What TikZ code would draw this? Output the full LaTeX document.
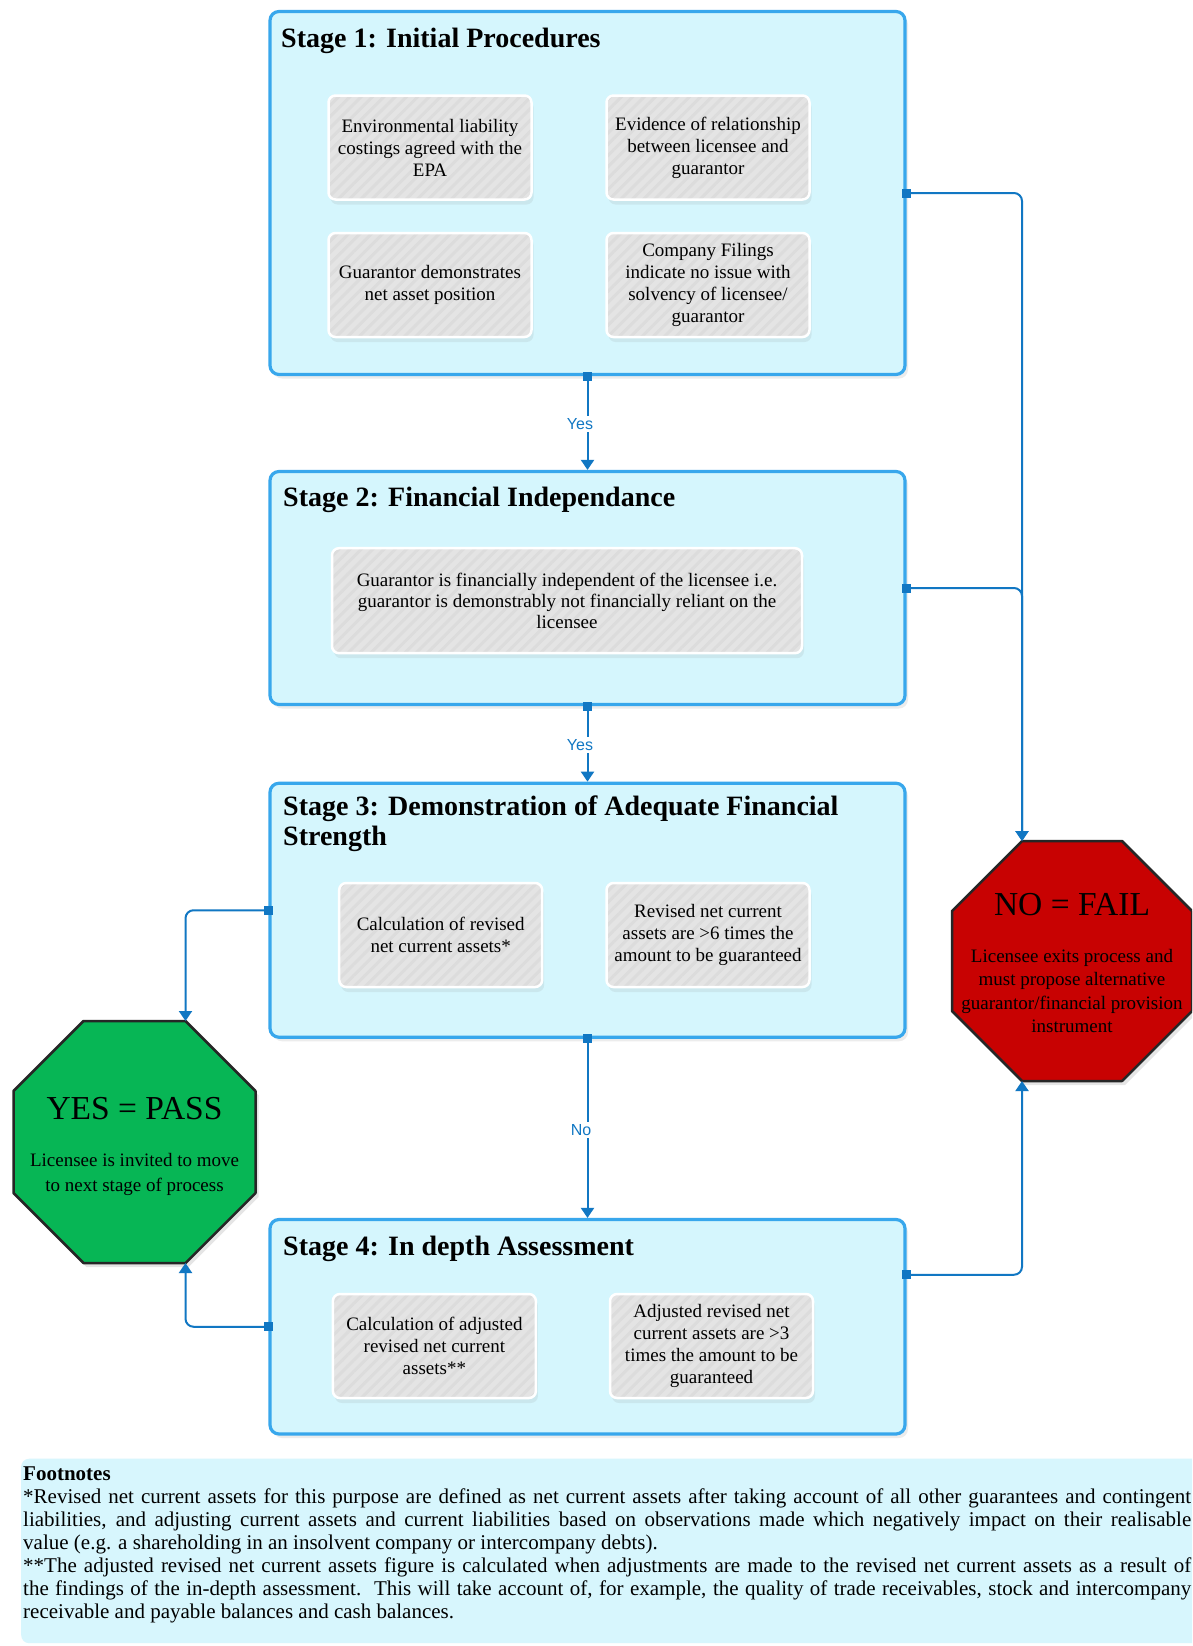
\documentclass[tikz,border=0pt]{standalone}
\usepackage{fontspec}
\setmainfont{Liberation Serif}
\newfontfamily\lsans{Liberation Sans}
\usetikzlibrary{shadows,arrows.meta,patterns.meta,calc}
\definecolor{stagefill}{HTML}{D5F6FD}
\definecolor{stageblue}{HTML}{38A7EC}
\definecolor{connblue}{HTML}{1177C3}
\definecolor{innergray}{HTML}{E4E4E4}
\definecolor{hatchgray}{HTML}{DCDCDC}
\definecolor{footfill}{HTML}{D7F6FD}
\definecolor{failred}{HTML}{C80202}
\definecolor{passgreen}{HTML}{07B655}
\definecolor{octedge}{HTML}{262626}
\begin{document}
\begin{tikzpicture}[x=1pt,y=-1pt,
  stagebox/.style={draw=stageblue, line width=3.2pt, fill=stagefill, rounded corners=9pt,
    minimum width=635pt, inner sep=0pt,
    drop shadow={shadow xshift=3pt, shadow yshift=-4pt, opacity=0.15}},
  innerbox/.style={draw=none, fill=innergray, rounded corners=7pt,
    minimum width=203pt, minimum height=104pt, inner sep=0pt, align=center,
    font=\fontsize{19pt}{22pt}\selectfont,
    drop shadow={shadow xshift=2pt, shadow yshift=-5pt, opacity=0.12},
    postaction={pattern={Lines[angle=45,distance=8pt,line width=3pt]}, pattern color=hatchgray},
    postaction={draw=white, line width=2.5pt}},
  titlef/.style={font=\bfseries\fontsize{28pt}{30pt}\selectfont, inner sep=0pt, anchor=base west, align=flush left},
  sq/.style={fill=connblue, minimum size=9pt, inner sep=0pt, draw=none},
  conn/.style={draw=connblue, line width=2pt, rounded corners=8pt, -{Triangle[width=13pt,length=10pt]}},
  lbl/.style={font=\lsans\fontsize{16pt}{18pt}\selectfont, text=connblue, fill=white, inner sep=2pt},
  octa/.style={draw=octedge, line width=2.5pt, line join=round,
    drop shadow={shadow xshift=3pt, shadow yshift=-4pt, opacity=0.2}},
  octtitle/.style={anchor=base, inner sep=0pt, font=\fontsize{33.5pt}{36pt}\selectfont},
  octbody/.style={anchor=base, inner sep=0pt, text width=236pt, align=flush center}
]
\useasboundingbox (0,0) rectangle (1192,1646);
\clip (0,0) rectangle (1192,1646);
\fill[white] (0,0) rectangle (1192,1646);

% footnote box
\node[fill=footfill, rounded corners=8pt, minimum width=1194pt, minimum height=184.5pt,
  inner sep=0pt, anchor=north west] (fnbox) at (21,1458.5) {};

% stage boxes
\node[stagebox, minimum height=363pt] (s1) at (587.5,193) {};
\node[stagebox, minimum height=233pt] (s2) at (587.5,588) {};
\node[stagebox, minimum height=254pt] (s3) at (587.5,910.25) {};
\node[stagebox, minimum height=214.5pt] (s4) at (587.5,1326.75) {};

% titles
\node[titlef] (s1t) at (281,48) {Stage 1: Initial Procedures};
\node[titlef] (s2t) at (283,506.5) {Stage 2: Financial Independance};
\node[titlef, text width=610pt] (s3t) at (283,815) {Stage 3: Demonstration of Adequate Financial\\Strength};
\node[titlef] (s4t) at (283,1255) {Stage 4: In depth Assessment};

% inner boxes
\node[innerbox] (b1) at (430,147.5) {Environmental liability\\costings agreed with the\\EPA};
\node[innerbox] (b2) at (708,147.5) {Evidence of relationship\\between licensee and\\guarantor};
\node[innerbox] (b3) at (430,285) {Guarantor demonstrates\\net asset position};
\node[innerbox] (b4) at (708,285) {Company Filings\\indicate no issue with\\solvency of licensee/\\guarantor};
\node[innerbox, minimum width=470pt, minimum height=105pt, font=\fontsize{19pt}{21pt}\selectfont] (b5) at (567,600.7)
  {Guarantor is financially independent of the licensee i.e.\\guarantor is demonstrably not financially reliant on the\\licensee};
\node[innerbox] (b6) at (440.7,935) {Calculation of revised\\net current assets*};
\node[innerbox] (b7) at (708,935) {Revised net current\\assets are >6 times the\\amount to be guaranteed};
\node[innerbox] (b8) at (434.4,1346) {Calculation of adjusted\\revised net current\\assets**};
\node[innerbox] (b9) at (711.5,1346) {Adjusted revised net\\current assets are >3\\times the amount to be\\guaranteed};

% octagons
\path[octa, fill=passgreen] (83.5,1021) -- (185.5,1021) -- (255.5,1091) -- (255.5,1193) -- (185.5,1263)
  -- (83.5,1263) -- (13.5,1193) -- (13.5,1091) -- cycle;
\path[octa, fill=failred] (1022,841) -- (1122,841) -- (1192,911) -- (1192,1011) -- (1122,1081)
  -- (1022,1081) -- (952,1011) -- (952,911) -- cycle;
\coordinate (yestop) at (185.5,1021);
\coordinate (yesbot) at (185.5,1263);
\coordinate (notop) at (1022,841);
\coordinate (nobot) at (1022,1081);

\node[octtitle] (yest) at (134.5,1119) {YES = PASS};
\node[octbody, font=\fontsize{19pt}{25pt}\selectfont] (yesb) at (134.5,1166.7) {Licensee is invited to move\\to next stage of process};
\node[octtitle] (not) at (1072,915) {NO = FAIL};
\node[octbody, font=\fontsize{19pt}{23.5pt}\selectfont] (nob) at (1072,962) {Licensee exits process and\\must propose alternative\\guarantor/financial provision\\instrument};

% anchor squares
\node[sq] (q1e) at (s1.east) {};
\node[sq] (q1s) at (s1.south) {};
\node[sq] (q2e) at (s2.east) {};
\node[sq] (q2s) at (s2.south) {};
\node[sq] (q3w) at (s3.west) {};
\node[sq] (q3s) at (s3.south) {};
\node[sq] (q4e) at ([yshift=52pt]s4.east) {};
\node[sq] (q4w) at (s4.west) {};

% connectors
\draw[conn] (q1s.center) -- (s2.north);
\draw[conn] (q2s.center) -- (s3.north);
\draw[conn] (q3s.center) -- (s4.north);
\draw[conn] (q1e.center) -| (notop);
\draw[conn] (q2e.center) -| (notop);
\draw[conn] (q4e.center) -| (nobot);
\draw[conn] (q3w.center) -| (yestop);
\draw[conn] (q4w.center) -| (yesbot);

\node[lbl] (y1) at (580,424) {Yes};
\node[lbl] (y2) at (580,745) {Yes};
\node[lbl] (n1) at (581,1130) {No};

% footnotes
\node[anchor=base west, inner sep=0pt, text width=1168pt, align=justify,
  font=\fontsize{21pt}{23pt}\selectfont] (fn) at (23,1480)
  {\tolerance=10000\hbadness=10000\textbf{Footnotes}\\\relax
  *Revised net current assets for this purpose are defined as net current assets after taking account of all other guarantees and contingent\linebreak
  liabilities, and adjusting current assets and current liabilities based on observations made which negatively impact on their realisable\linebreak
  value (e.g. a shareholding in an insolvent company or intercompany debts).\\\relax
  **The adjusted revised net current assets figure is calculated when adjustments are made to the revised net current assets as a result of\linebreak
  the findings of the in-depth assessment.\ \ This will take account of, for example, the quality of trade receivables, stock and intercompany\linebreak
  receivable and payable balances and cash balances.};
\end{tikzpicture}
\end{document}
